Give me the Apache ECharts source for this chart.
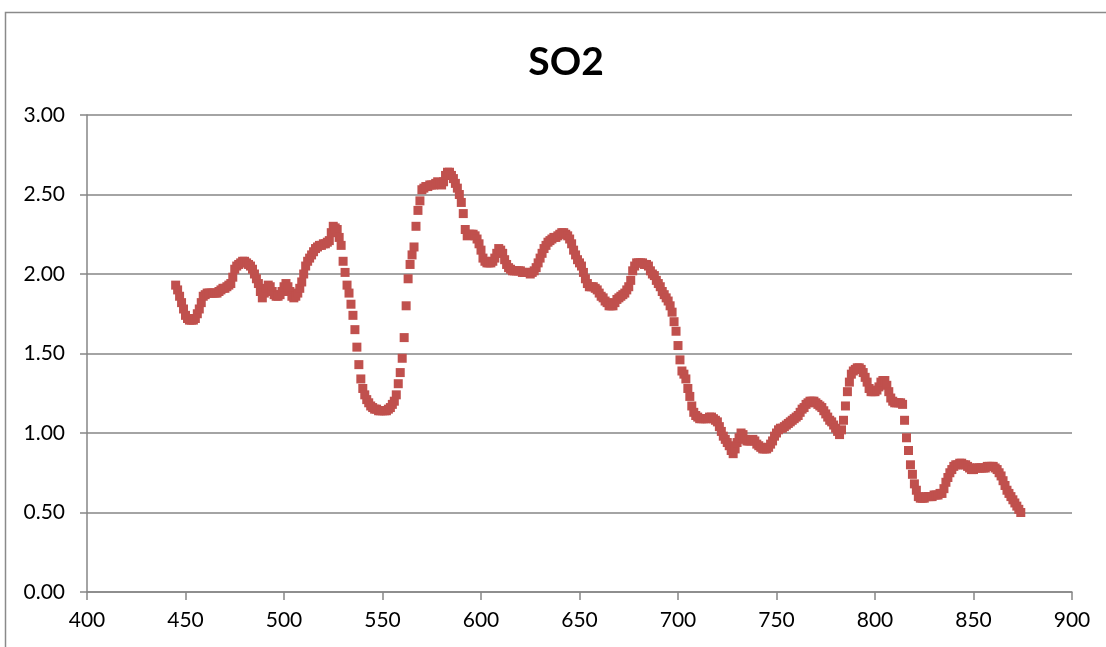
<!DOCTYPE html>
<html>
<head>
<meta charset="utf-8">
<script src="https://cdn.jsdelivr.net/npm/echarts@6/dist/echarts.min.js"></script>
<style>
html,body{margin:0;padding:0;background:#fff;}
#chart{width:1106px;height:647px;}
</style>
</head>
<body>
<div id="chart"></div>
<script>
// Sampling grid: wavelengths from 445 to 874 in 1 nm steps
var startWavelength = 445;
var stepWavelength = 1;
// SO2 values, one per wavelength
var so2Values = [
1.93,1.90,1.86,1.82,1.78,1.74,1.72,1.71,1.71,1.71,
1.72,1.75,1.78,1.82,1.86,1.87,1.88,1.88,1.88,1.88,
1.88,1.88,1.89,1.90,1.91,1.91,1.92,1.93,1.94,1.98,
2.03,2.05,2.06,2.07,2.08,2.08,2.07,2.06,2.05,2.03,
2.00,1.97,1.94,1.89,1.85,1.88,1.91,1.93,1.92,1.89,
1.87,1.86,1.86,1.87,1.89,1.92,1.94,1.92,1.89,1.86,
1.85,1.86,1.88,1.91,1.95,2.00,2.05,2.08,2.10,2.12,
2.14,2.16,2.17,2.18,2.18,2.19,2.19,2.20,2.21,2.26,
2.30,2.29,2.28,2.23,2.18,2.08,2.01,1.93,1.88,1.81,
1.74,1.65,1.54,1.43,1.34,1.28,1.24,1.21,1.19,1.17,
1.16,1.15,1.15,1.14,1.14,1.14,1.14,1.14,1.15,1.16,
1.18,1.20,1.24,1.31,1.38,1.47,1.60,1.80,1.97,2.06,
2.12,2.17,2.30,2.40,2.46,2.53,2.54,2.55,2.55,2.56,
2.56,2.56,2.57,2.58,2.57,2.56,2.58,2.62,2.64,2.64,
2.62,2.60,2.57,2.54,2.50,2.45,2.38,2.28,2.24,2.25,
2.25,2.25,2.24,2.22,2.19,2.15,2.10,2.08,2.07,2.07,
2.07,2.08,2.10,2.13,2.16,2.15,2.13,2.09,2.06,2.04,
2.03,2.02,2.02,2.02,2.02,2.02,2.01,2.01,2.01,2.01,
2.00,2.01,2.02,2.04,2.07,2.10,2.13,2.16,2.18,2.20,
2.21,2.22,2.23,2.23,2.24,2.25,2.26,2.26,2.25,2.24,
2.22,2.19,2.15,2.12,2.09,2.07,2.05,2.01,1.97,1.94,
1.92,1.92,1.92,1.91,1.90,1.88,1.86,1.85,1.83,1.82,
1.80,1.80,1.80,1.82,1.84,1.85,1.86,1.87,1.88,1.90,
1.92,1.96,2.02,2.05,2.07,2.07,2.07,2.07,2.06,2.06,
2.05,2.02,2.00,1.99,1.96,1.94,1.92,1.89,1.87,1.85,
1.83,1.80,1.76,1.70,1.64,1.55,1.46,1.39,1.37,1.34,
1.28,1.23,1.17,1.13,1.11,1.10,1.09,1.09,1.09,1.09,
1.09,1.10,1.10,1.09,1.08,1.07,1.04,1.01,0.98,0.96,
0.94,0.92,0.89,0.87,0.90,0.94,0.97,1.00,0.99,0.96,
0.95,0.95,0.95,0.96,0.95,0.93,0.92,0.91,0.90,0.90,
0.90,0.91,0.93,0.95,0.98,1.00,1.02,1.03,1.03,1.04,
1.05,1.06,1.07,1.08,1.09,1.10,1.11,1.13,1.15,1.16,
1.18,1.19,1.20,1.20,1.20,1.19,1.18,1.17,1.16,1.14,
1.12,1.10,1.08,1.07,1.05,1.03,1.01,0.99,1.02,1.08,
1.17,1.26,1.32,1.37,1.39,1.40,1.41,1.41,1.40,1.38,
1.35,1.32,1.28,1.26,1.26,1.26,1.27,1.29,1.32,1.33,
1.33,1.30,1.26,1.22,1.20,1.19,1.19,1.19,1.19,1.18,
1.08,0.97,0.89,0.80,0.74,0.68,0.64,0.60,0.59,0.59,
0.59,0.60,0.60,0.60,0.60,0.61,0.61,0.61,0.62,0.62,
0.65,0.69,0.72,0.75,0.77,0.79,0.80,0.80,0.81,0.81,
0.80,0.80,0.79,0.78,0.77,0.77,0.78,0.78,0.78,0.78,
0.78,0.78,0.79,0.79,0.79,0.79,0.78,0.77,0.75,0.73,
0.70,0.67,0.64,0.62,0.60,0.58,0.56,0.54,0.52,0.50
];
var chartTitle = 'SO2';
var xTicks = [400,450,500,550,600,650,700,750,800,850,900];
var yTicks = [0,0.5,1,1.5,2,2.5,3];

var points = so2Values.map(function(v,i){ return [startWavelength + i*stepWavelength, v]; });

var chart = echarts.init(document.getElementById('chart'), null, {renderer:'canvas'});
var axisGray = '#868686';
var font = 'Lato, "Open Sans", sans-serif';
chart.setOption({
  animation:false,
  backgroundColor:'#fff',
  title:{
    text: chartTitle,
    left: 561, top: 38, textAlign:'center',
    textStyle:{fontFamily:font, fontWeight:'bold', fontSize:39, color:'#000'}
  },
  graphic:[{
    type:'rect', silent:true, z:-1,
    shape:{x:5.5, y:12.5, width:1200, height:700},
    style:{fill:'none', stroke:'#8a8a8a', lineWidth:1.5}
  }],
  grid:{left:87, right:34, top:115, bottom:55, containLabel:false},
  xAxis:{
    type:'value', min:xTicks[0], max:xTicks[xTicks.length-1], interval:50,
    axisLine:{show:true, lineStyle:{color:axisGray, width:1.5}},
    axisTick:{show:true, length:8, lineStyle:{color:axisGray, width:1.5}},
    splitLine:{show:false},
    axisLabel:{fontFamily:font, fontSize:21, color:'#000', margin:18}
  },
  yAxis:{
    type:'value', min:yTicks[0], max:yTicks[yTicks.length-1], interval:0.5,
    axisLine:{show:true, lineStyle:{color:axisGray, width:1.5}},
    axisTick:{show:true, length:7, lineStyle:{color:axisGray, width:1.5}},
    splitLine:{show:true, lineStyle:{color:axisGray, width:1.5}},
    axisLabel:{fontFamily:font, fontSize:21, color:'#000', margin:22,
      formatter:function(v){ return v.toFixed(2); }}
  },
  series:[{
    type:'scatter',
    data: points,
    symbol:'rect',
    symbolSize:9,
    itemStyle:{color:'#C0504D', opacity:1},
    z:3
  }]
});
</script>
</body>
</html>
